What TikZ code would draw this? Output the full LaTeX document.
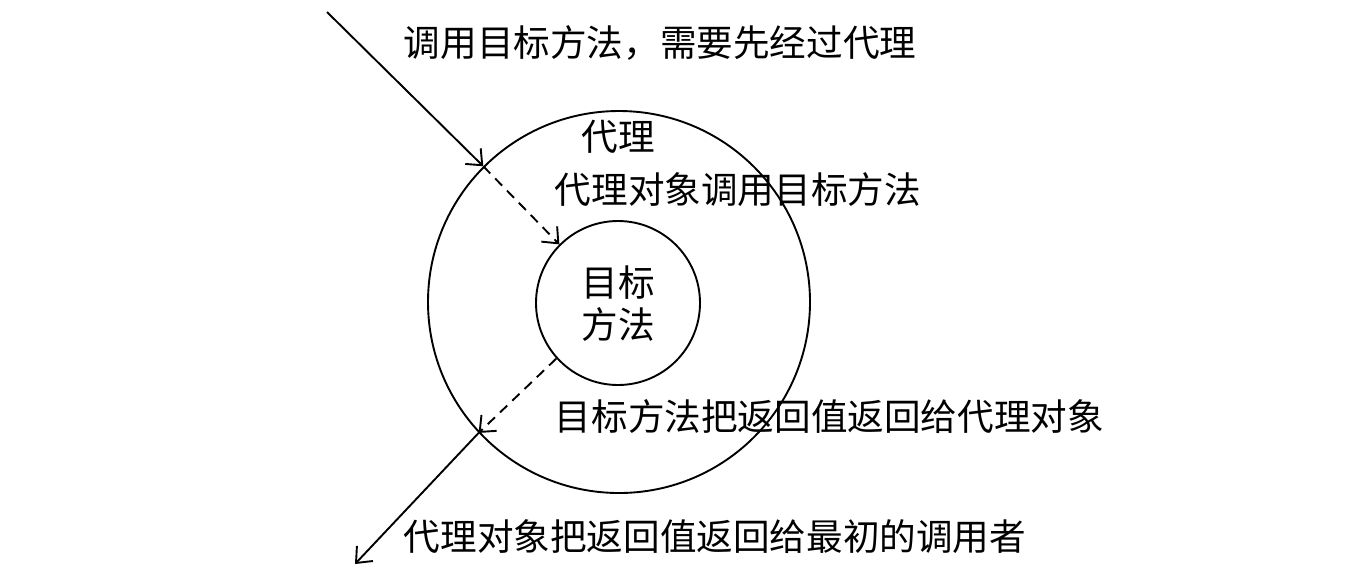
\documentclass[tikz,border=0pt]{standalone}
\usepackage{fontspec}
\setmainfont{Noto Sans CJK SC}
\usetikzlibrary{arrows.meta}
\begin{document}
\begin{tikzpicture}[x=1pt,y=-1pt,
  line width=1.9pt,
  ring/.style={circle,draw,inner sep=0pt,line width=1.9pt},
  lbl/.style={inner sep=0pt,font=\fontsize{36.6}{44}\selectfont},
  tip/.style={-{Straight Barb[length=13pt,width=22pt,line width=1.9pt]}},
  dsh/.style={dash pattern=on 10pt off 7pt}]
\useasboundingbox (0,0) rectangle (1367,582);
\node[ring,minimum size=382pt] (outer) at (619,302) {};
\node[ring,minimum size=164pt] (inner) at (618,303) {};
\node[lbl,anchor=west] (t1) at (403,43) {调用目标方法，需要先经过代理};
\node[lbl] (t2) at (618,137) {代理};
\node[lbl,anchor=west] (t3) at (554,190) {代理对象调用目标方法};
\node[lbl,align=center,font=\fontsize{36.6}{42}\selectfont] (t4) at (618,304) {目标\\方法};
\node[lbl,anchor=west] (t5) at (554,417) {目标方法把返回值返回给代理对象};
\node[lbl,anchor=west] (t6) at (403,537) {代理对象把返回值返回给最初的调用者};
\coordinate (s1) at (327,12);
\coordinate (e2) at (355,564);
\draw[tip] (s1) -- (outer.135);
\draw[tip,dsh] (outer.135) -- (inner.135);
\draw[tip,dsh] (inner.222) -- (outer.223);
\draw[tip] (outer.223) -- (e2);
\end{tikzpicture}
\end{document}
